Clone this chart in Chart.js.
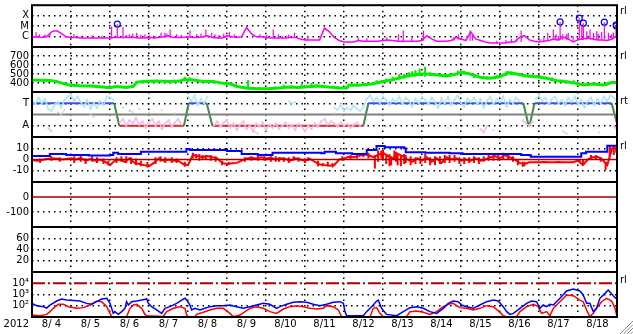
<!DOCTYPE html>
<html>
<head>
<meta charset="utf-8">
<script src="https://cdn.jsdelivr.net/npm/chart.js@4.4.1/dist/chart.umd.min.js"></script>
<style>
  html, body { margin: 0; padding: 0; background: #fff; }
  #wrap { position: relative; width: 633px; height: 334px; overflow: hidden; background: #fff; }
  #wrap canvas { position: absolute; left: 0; top: 0; }
</style>
</head>
<body>
<div id="wrap"></div>
<script>
// hours are counted from 2012-08-04 00:00 UT, 360 h = 15 days
const dayLabels = ['8/ 4', '8/ 5', '8/ 6', '8/ 7', '8/ 8', '8/ 9', '8/10', '8/11', '8/12', '8/13', '8/14', '8/15', '8/16', '8/17', '8/18'];

// X-ray flux (W/m2), one value every 3 h
const xrayFlux = [
  8.3e-7, 9.5e-7, 8.3e-7, 9.5e-7, 2.8e-6, 3.7e-6, 2.0e-6, 9.5e-7, 8.3e-7, 8.3e-7,
  7.2e-7, 7.2e-7, 7.2e-7, 7.2e-7, 7.2e-7, 7.2e-7, 7.2e-7, 8.3e-7, 8.3e-7, 8.3e-7,
  8.3e-7, 8.3e-7, 7.2e-7, 7.2e-7, 8.3e-7, 7.2e-7, 8.3e-7, 9.5e-7, 1.2e-6, 8.3e-7,
  8.3e-7, 8.3e-7, 9.5e-7, 8.3e-7, 8.3e-7, 9.5e-7, 1.2e-6, 8.3e-7, 7.2e-7, 7.2e-7,
  1.2e-6, 9.5e-7, 8.3e-7, 9.5e-7, 7.4e-6, 1.9e-6, 9.5e-7, 9.5e-7, 8.3e-7, 7.2e-7,
  7.2e-7, 7.2e-7, 7.2e-7, 8.3e-7, 8.3e-7, 5.9e-7, 4.8e-7, 4.8e-7, 4.8e-7, 4.8e-7,
  6.5e-6, 2.8e-6, 8.3e-7, 4.2e-7, 3.0e-7, 3.0e-7, 3.0e-7, 4.2e-7, 3.6e-7, 3.6e-7,
  3.6e-7, 3.6e-7, 4.2e-7, 4.8e-7, 4.2e-7, 3.6e-7, 3.6e-7, 3.6e-7, 3.6e-7, 3.6e-7,
  4.2e-7, 1.2e-6, 5.9e-7, 3.6e-7, 3.6e-7, 3.6e-7, 4.2e-7, 8.3e-7, 5.9e-7, 4.2e-7,
  2.8e-6, 5.9e-7, 4.2e-7, 3.0e-7, 2.4e-7, 2.4e-7, 2.4e-7, 2.4e-7, 3.0e-7, 3.0e-7,
  8.3e-7, 1.2e-6, 4.8e-7, 3.6e-7, 3.0e-7, 3.6e-7, 4.2e-7, 5.9e-7, 4.8e-7, 8.3e-7,
  5.9e-7, 3.0e-7, 4.8e-7, 5.9e-7, 7.2e-7, 5.9e-7, 4.8e-7, 4.8e-7, 4.2e-7, 5.9e-7,
  1.2e-6
];
// short X-ray bursts: [hour, low, peak]
const xraySpikes = [
  [2.5, 8e-7, 2.8e-6], [4.5, 8e-7, 1.65e-6], [8, 8e-7, 1.65e-6], [11, 9e-7, 2e-6], [25.8, 8e-7, 1.8e-6],
  [30.5, 7e-7, 1.2e-6], [37, 7e-7, 1.3e-6], [43, 7e-7, 1.2e-6],
  [49, 7e-7, 9e-6], [52.5, 8e-7, 1.5e-5], [56, 8e-7, 8e-6], [58, 8e-7, 1.4e-6], [60, 8e-7, 1.65e-6], [62, 8e-7, 2e-6],
  [64.4, 7e-7, 2.3e-6], [67, 7e-7, 1.5e-6], [69.5, 7e-7, 1.65e-6], [72.5, 8e-7, 1.3e-6], [75.7, 7e-7, 1.2e-6],
  [79.4, 8e-7, 2.3e-6], [81.8, 8e-7, 2.3e-6], [83, 9e-7, 2e-6], [85, 9e-7, 4.6e-6], [89, 8e-7, 1.65e-6], [92, 8e-7, 1.5e-6],
  [97.2, 9e-7, 3.7e-6], [101.3, 8e-7, 1.65e-6], [104, 8e-7, 2e-6], [107, 1e-6, 4.6e-6], [110.6, 8e-7, 2.3e-6],
  [112.6, 8e-7, 1.65e-6], [115, 7e-7, 1.4e-6], [118, 7e-7, 2e-6],
  [121.4, 1e-6, 2.8e-6], [124.5, 9e-7, 1.65e-6], [140.3, 8e-7, 1.65e-6], [144.5, 8e-7, 1.4e-6], [148.5, 7e-7, 4.6e-6],
  [151.6, 7e-7, 1.65e-6], [154, 7e-7, 1.2e-6], [157.8, 7e-7, 1.5e-6], [161.5, 8e-7, 2.3e-6], [169.7, 5e-7, 1.2e-6],
  [200.8, 3.6e-7, 8e-7], [206, 3.6e-7, 7e-7], [218.3, 4e-7, 8e-7], [225.5, 3.6e-7, 1.65e-6],
  [228.5, 3.6e-7, 3.7e-6], [233.7, 3.6e-7, 8e-7], [240.9, 4e-7, 3.7e-6], [259.7, 4e-7, 9e-7],
  [262.4, 5e-7, 1.65e-6], [269.6, 4e-7, 3.7e-6], [271, 4e-7, 1.5e-6], [286, 2.4e-7, 4e-7], [291.7, 2.4e-7, 4.8e-7],
  [295, 3e-7, 6e-7], [298.3, 3e-7, 5.9e-7],
  [301, 3e-7, 3.7e-6], [312.6, 3e-7, 5.9e-7], [315, 3.6e-7, 8e-7], [317.4, 4e-7, 2.3e-6], [320.8, 5e-7, 4.6e-6],
  [322.5, 4e-7, 1.65e-6], [323.9, 4e-7, 1.2e-6], [325, 5e-7, 2.5e-5], [326.6, 5e-7, 1.65e-6],
  [329, 5e-7, 1.65e-6], [330, 5e-7, 2.3e-6], [333, 3e-7, 1e-6], [336.8, 5e-7, 5.7e-5], [338.3, 5e-7, 9e-6],
  [339.3, 5e-7, 1.9e-5], [341.4, 5e-7, 3.2e-6], [343.4, 5e-7, 4.6e-6], [345.5, 5e-7, 2.3e-6],
  [347.5, 5e-7, 3.2e-6], [348.5, 5e-7, 1.9e-6], [350.6, 5e-7, 2.8e-6], [352.2, 5e-7, 2.4e-5], [354.7, 5e-7, 2.3e-6],
  [356.7, 6e-7, 1.65e-6], [357.8, 6e-7, 2.5e-6], [359.4, 8e-7, 1.35e-5]
];
const flareHours = [52.5, 325, 336.8, 339.3, 352.2, 359.5, 359.6];
const flareFlux = [1.55e-5, 2.5e-5, 5.7e-5, 1.9e-5, 2.4e-5, 1.35e-5, 1.05e-5];

// solar wind speed (km/s)
const windHours = [0, 5, 11, 15, 19, 23, 29.5, 35.7, 41.8, 48, 52, 58, 62.4, 64.4, 68.5, 76.7, 85, 91, 94, 99,
  105.4, 111.6, 117.7, 121.8, 127, 133, 139.3, 145.5, 151.6, 157.8, 163.9, 170, 176.2, 182.4, 188.5, 193.7,
  195.1, 200.8, 209, 215.2, 221.4, 227.5, 233.7, 239.8, 242.9, 249, 255.2, 261.4, 264.4, 269.6, 275.7,
  281.9, 288, 293.2, 298.3, 304.4, 310.6, 316.7, 322.9, 329, 335.2, 339.3, 345.5, 351.6, 356.7, 360];
const windSpeed = [433, 430, 428, 418, 396, 378, 370, 367, 359, 348, 361, 350, 363, 410, 416, 422, 416, 422, 440, 433,
  416, 418, 396, 392, 359, 341, 337, 337, 344, 355, 350, 359, 367, 356, 348, 345,
  378, 374, 389, 414, 433, 463, 489, 500, 500, 489, 478, 500, 520, 500, 463,
  452, 470, 515, 500, 478, 470, 452, 426, 414, 396, 378, 389, 378, 405, 405];
// scatter of the speed samples: [hour, low, high]
const windSpikes = [[5, 420, 445], [14, 405, 430], [27, 360, 385], [40, 350, 372], [55, 345, 370], [70, 405, 430],
  [80, 410, 432], [88, 408, 430], [94, 420, 470], [97, 420, 465], [103, 408, 432], [115, 385, 410], [125, 350, 380],
  [133, 335, 433], [140, 330, 350], [150, 335, 360], [155, 340, 380], [160, 342, 372], [166, 345, 395], [172, 350, 400],
  [175, 355, 385], [185, 345, 370], [198, 365, 392], [205, 375, 400], [212, 400, 430], [218, 420, 450], [222, 425, 470],
  [226, 440, 500], [229, 450, 500], [232, 460, 520], [234, 470, 530], [236, 470, 545], [238.5, 480, 560], [241.9, 470, 581],
  [245, 480, 520], [250, 478, 510], [255, 465, 500], [262, 490, 540], [266, 495, 535], [272, 455, 485], [280, 440, 470],
  [286, 460, 490], [292, 480, 530], [295, 490, 525], [300, 480, 510], [306, 465, 495], [313, 455, 480], [320, 430, 460],
  [326, 410, 435], [333.5, 390, 430], [340, 370, 395], [348, 378, 400], [354, 370, 398], [358, 395, 425]];

// T / A state line and sample clouds (0..4 scale, A = 1, T = 3)
const stepHours = [0, 50.6, 53.7, 93.5, 96.4, 107.5, 111, 203.9, 207, 302.4, 305.6, 306.2, 309.2, 356.7, 360];
const stepLevel = [3, 3, 1, 1, 3, 3, 1, 1, 3, 3, 1, 1, 3, 3, 1.2];
const tCloud = [[0, 3.3], [2, 2.9], [4, 3.5], [6, 3.0], [8, 3.4], [10, 2.5], [12, 2.3], [14, 2.9], [16, 3.1], [18, 2.6],
  [20, 3.3], [22, 3.6], [24, 3.7], [26, 3.2], [28, 3.6], [30, 3.1], [32, 2.7], [34, 3.3], [36, 2.5], [38, 3.0],
  [40, 2.6], [42, 3.2], [44, 2.8], [46, 3.6], [48, 3.5], [50, 3.3], [60, 2.4], [62, 2.2],
  [96, 3.6], [98, 3.2], [100, 3.7], [102, 2.8], [104, 3.4], [106, 3.0], [108, 3.6], [158, 3.2], [160, 3.0], [162, 3.1],
  [186, 2.6], [188, 2.4], [190, 2.9], [192, 2.3], [194, 2.6], [196, 2.4], [198, 2.8], [200, 2.5], [202, 2.3], [204, 2.7],
  [206, 3.4], [208, 3.7], [210, 3.2], [212, 3.5], [214, 3.0], [216, 3.6], [218, 3.3], [220, 2.8], [222, 3.4], [224, 3.1],
  [226, 3.6], [228, 2.9], [230, 3.5], [232, 3.2], [234, 2.7], [236, 3.4], [238, 3.0], [240, 3.6], [242, 3.3], [244, 2.9],
  [246, 3.5], [248, 3.1], [250, 2.6], [252, 3.4], [254, 3.0], [256, 3.6], [258, 2.8], [260, 3.3], [262, 3.7], [264, 3.0],
  [266, 2.7], [268, 3.4], [270, 3.1], [272, 3.5], [274, 2.9], [276, 3.3], [278, 2.6], [280, 3.2], [282, 3.6], [284, 2.9],
  [286, 3.4], [288, 3.1], [290, 3.6], [292, 2.7], [294, 3.3], [296, 3.0], [298, 3.5], [300, 3.2],
  [310, 3.4], [312, 3.7], [314, 3.2], [316, 3.5], [318, 2.9], [320, 3.4], [322, 3.6], [324, 3.0], [326, 3.3], [328, 2.8],
  [330, 3.5], [332, 3.1], [334, 3.6], [336, 2.9], [338, 3.3], [340, 2.6], [342, 3.2], [344, 3.5], [346, 2.8], [348, 3.4],
  [350, 3.0], [352, 3.6], [354, 3.2], [356, 3.7], [358, 3.5], [360, 3.1]];
const aCloud = [[10, 0.8], [12, 0.5], [36, 1.2],
  [54, 1.3], [56, 1.6], [58, 1.0], [60, 1.5], [62, 1.2], [64, 1.7], [66, 1.1], [68, 1.4], [70, 0.8], [72, 1.3],
  [74, 1.6], [76, 1.0], [78, 1.4], [80, 0.7], [82, 1.2], [84, 1.5], [86, 0.9], [88, 1.3], [90, 1.6], [92, 1.1],
  [112, 1.0], [114, 1.4], [116, 0.9], [118, 1.3], [120, 1.5], [122, 0.8], [124, 1.2], [126, 0.6], [128, 1.1], [130, 1.4],
  [132, 0.7], [134, 1.0], [136, 0.5], [138, 1.2], [140, 0.9], [142, 1.3], [144, 0.6], [146, 1.1], [148, 0.8], [150, 1.2],
  [152, 0.7], [154, 1.0], [156, 1.3], [158, 0.8], [160, 1.1], [162, 0.6], [164, 1.2], [166, 0.9], [168, 0.5], [170, 1.0],
  [172, 0.7], [174, 1.2], [176, 0.9], [178, 1.4], [180, 1.6], [182, 1.1], [184, 1.4], [186, 1.2], [188, 0.9], [190, 1.3],
  [192, 1.0], [194, 1.2], [196, 0.8], [198, 1.1], [200, 1.3], [202, 1.0],
  [256, 0.8], [276, 0.7], [278, 0.4], [280, 1.0], [284, 0.6], [302, 1.5], [304, 1.2], [306, 1.0], [308, 1.4], [358, 1.0], [360, 0.6]];
const grayCloud = [[16, 2.2], [18, 2.0], [20, 2.4], [36, 2.0], [38, 1.8], [56, 2.6], [60, 2.3], [66, 2.5], [72, 2.2],
  [80, 2.4], [88, 2.1], [137, 0.5], [139, 0.3], [186, 2.1], [190, 1.9], [252, 3.5], [276, 3.4], [327, 0.5], [329, 0.3],
  [335, 0.6], [349, 0.4]];

// IMF Bt and Bz (nT)
const btHours = [0, 11, 21, 35, 48, 50, 53, 66, 67, 93, 95, 97, 120, 129, 139, 147, 148, 160, 178, 180, 186, 187,
  197, 205, 206, 211, 212, 217, 229, 230, 242, 257, 265, 300, 301, 306, 307, 337, 338, 341, 353, 354, 360];
const btValues = [3.1, 4.9, 4, 3.5, 4, 6.1, 5, 5, 6.9, 6.9, 9.3, 8.4, 7.5, 5, 4, 4, 6, 6, 5.5, 7, 6.9, 5.5,
  5, 4.9, 8.4, 8.4, 12, 10.8, 10, 6.5, 6, 5.5, 4.9, 4.9, 4, 3.7, 2.5, 2.5, 5.5, 7, 7, 12.3, 12];
// Bz every 3 h
const bzValues = [
  -0.4, -1, -0.4, 0.5, 1, 1, 0, 0.5, 1, 0, 1.5, -1, 0.5, -1, 0, -2, -5, -1, 0, -2,
  1, -3, -4, -5, -6, -3, 1, -1, 0, -1, -1, -4, -5, 4, 3, 2, 3, 2, 1, -3,
  -4, -3.4, -3, -1, 1, 1.5, 1, 2, 1, 1.5, 0, 1, 0.5, -1, 1, 0, -1, 0.5, -2, -4.5,
  -5, -5.5, -5, 0, 1, 2.5, 2, 3, 4.5, 4, 2, 4, 6, 3, 1, 5, 3, 0, -2, 1,
  -1, 2, -2, 1, -3, 2, 0, 1, -1, 0, -1, 1, -1, 0, 2, 3, 1, 4, 2, 0,
  -3, -4, -2.5, -2.4, -2.4, -2.2, -2.5, -2.4, -2.3, -2.5, -2.4, -2.4, -1, -4.9, 0, 2, 2.5, 0, -5, 10,
  10
];
// Bz scatter: [hour, low, high]
const bzSpikes = [[5, -3, 1], [12, -1, 3], [17, -2, 2], [26, -3, 3], [30, -2, 4], [33, -4, 1], [37, -2, 3], [40, -3, 2],
  [44, -4, 1], [47, -5, -1], [52, -3, 2], [55, -2, 3], [58, -3, 3], [61, -4, 2], [64, -5, 1], [67, -6, -1], [71, -7, -2],
  [76, -4, 2], [79, -2, 3], [82, -3, 2], [86, -3, 2], [89, -3, 1], [94, -6.4, -2], [99, 1, 6], [101, 1, 5], [103, -1, 5],
  [105, 0, 4], [107, 0, 4], [110, -1, 4], [113, -2, 3], [117, -5, -1], [121, -5, -2], [131, -2, 2], [135, -1, 3],
  [139, -1, 4], [143, -1, 3], [147, -2, 3], [150, -2, 3], [152, -2, 2], [155, -2, 2], [158, -3, 2], [161, -1, 3],
  [164, -2, 2], [168, -3, 1], [170, -1, 2], [176, -6, -1], [179, -6, -3], [182, -6, -2], [185, -7, -3], [191, -1, 3],
  [196, 0, 4], [200, 1, 5], [204, 2, 6], [207, 1, 6], [211, -7.9, 4], [213, -2, 8], [215, 1, 8], [216, 0, 9], [218, -4, 5],
  [220, -6, 5], [221, -5, 3], [223, 0, 8], [224, -2, 7], [225, -5, 6], [227, -6, 4], [229, -4, 5], [230, -3, 4],
  [233, -5, 3], [236, -4, 2], [239, -4, 3], [242, -3, 5], [245, -5, 2], [248, -5, 3], [251, -4, 3], [254, -3, 4],
  [257, -3, 4], [260, -2, 4], [263, -4, 2], [266, -4, 2], [269, -3, 2], [272, -3, 3], [275, -4, 2], [278, -2, 3],
  [281, -1, 4], [284, -1, 5], [287, -1, 5], [290, 0, 6], [293, 0, 5], [296, -2, 3], [299, -5, 0], [302, -6.5, -2],
  [303, -6, -2], [337, -3, 0], [339, -5, 0], [344, 0, 4], [347, 0, 4], [350, -2, 2], [353, -9.3, -2], [355.5, 2, 12],
  [358, 4, 12], [359.5, 6, 11]];

// particle flux, bottom panel
const blueFluxHours = [0, 2.9, 7, 9, 11.1, 15.2, 18.2, 21.3, 25.4, 29.5, 33.6, 36.7, 39.8, 42.9, 46, 48, 49, 50, 51, 53.1,
  55.2, 57.2, 58.2, 59.3, 61.3, 64.4, 67.5, 70.6, 71.6, 73.6, 76.7, 79.8, 81.8, 84.9, 89, 92.1, 94.1, 95.2, 97.2, 98.2,
  100.3, 103.4, 106.4, 109.5, 113.6, 117.7, 121.8, 125.9, 130, 134.1, 138.2, 142.3, 146.4, 150.5, 152.6, 156.7, 160.8,
  164.9, 169, 173.1, 177.2, 181.3, 185.4, 189.5, 191.6, 192.6, 193.6, 203.9, 205.9, 209, 212.1, 213.1, 215.1, 218.2,
  224.4, 228.5, 232.6, 236.7, 240.8, 244.9, 249, 253.1, 256.2, 259.2, 262.3, 264.4, 267.4, 271.6, 275.6, 279.8, 283.9,
  286.9, 290, 292.1, 294.1, 296.2, 300.3, 304.4, 307.4, 310.5, 312.6, 314.6, 316.7, 318.7, 320.8, 324.9, 329, 333.1,
  337.2, 339.2, 341.3, 343.3, 345.4, 347.4, 349.5, 352.6, 354.6, 357.7, 359.7];
const blueFlux = [163, 102, 83, 63, 117, 265, 400, 320, 300, 265, 163, 134, 230, 400, 460, 163, 59, 21, 30, 17,
  30, 59, 230, 117, 230, 265, 320, 400, 163, 83, 42, 21, 59, 83, 163, 320, 460, 320, 117, 42,
  59, 42, 59, 83, 102, 102, 117, 83, 59, 83, 117, 163, 134, 59, 83, 134, 200,
  230, 200, 134, 102, 134, 200, 230, 163, 30, 13, 13, 30, 83, 265, 320, 59, 17,
  13, 30, 68, 83, 59, 30, 21, 59, 163, 265, 230, 117, 83, 59, 117, 230, 320,
  265, 83, 30, 17, 21, 59, 163, 265, 230, 59, 117, 83, 134, 117, 460, 2040, 3090,
  2040, 910, 163, 163, 30, 59, 460, 1260, 2510, 790, 400];
const redFluxHours = [0, 5, 9, 11.1, 13.1, 16.2, 19.3, 22.4, 27.5, 31.6, 35.7, 39.8, 42.9, 46, 48, 49, 58.2, 60.3, 62.4,
  64.4, 67.5, 69.5, 70.5, 80.8, 82.9, 87, 91, 94.1, 95.2, 96.2, 100.3, 101.3, 105.4, 109.5, 113.6, 117.7, 121.8, 123.9,
  128, 134.1, 138.2, 142.3, 146.4, 150.5, 154.7, 158.8, 162.8, 166.9, 171, 175.2, 179.3, 181.3, 185.4, 188.5, 190.5,
  208, 210, 212.1, 214.1, 216.2, 230.5, 232.6, 236.7, 240.8, 244.9, 249, 253.1, 256.2, 259.2, 263.3, 267.4, 271.6,
  275.6, 279.8, 283.9, 288, 290, 292.1, 298.2, 300.3, 304.4, 308.5, 311.5, 313.6, 316.7, 318.7, 320.8, 324.9, 329,
  333.1, 337.2, 339.2, 341.3, 343.3, 345.4, 347.4, 350.5, 353.6, 356.7, 358.8, 360];
const redFlux = [15, 13, 17, 30, 59, 134, 134, 83, 59, 68, 117, 265, 230, 83, 21, 10.7, 10.7, 59, 117,
  134, 59, 17, 13, 11, 30, 59, 83, 59, 15, 10.7, 10.7, 17, 26, 42, 59, 59, 21, 10.7,
  15, 59, 83, 59, 30, 21, 51, 83, 102, 83, 59, 51, 59, 102, 83, 42, 10.7,
  10.7, 59, 68, 21, 10.7, 10.7, 30, 34, 26, 17, 30, 83, 134, 163, 68, 59, 42,
  59, 102, 83, 26, 13, 10.7, 10.7, 30, 83, 134, 83, 21, 30, 13, 59, 230, 910,
  790, 320, 230, 42, 10.7, 21, 59, 230, 460, 265, 59, 10.7];

const W = 633, H = 334, LEFT = 32, RIGHT = 617;
const FONT = { family: 'DejaVu Sans', size: 10 };
const DOT = [1.5, 4];
const CLEAR = 'rgba(0,0,0,0)';

function pairs(hours, values) { return hours.map((h, i) => ({ x: h, y: values[i] })); }
function every3(values) { return values.map((v, i) => ({ x: i * 3, y: v })); }
function cloud(list) { return list.map(p => ({ x: p[0], y: p[1] })); }
function segs(list) {
  const out = [];
  list.forEach(s => { out.push({ x: s[0], y: s[1] }, { x: s[0], y: s[2] }, { x: s[0], y: null }); });
  return out;
}
function line(data, color, width, extra) {
  return Object.assign({ data, borderColor: color, borderWidth: width, pointRadius: 0, fill: false, tension: 0 }, extra || {});
}
function flat(value, color, width, extra) {
  return line([{ x: 0, y: value }, { x: 360, y: value }], color, width, extra);
}

const framePlugin = {
  id: 'frame',
  afterDatasetsDraw(chart) {
    const { ctx, chartArea: a } = chart;
    ctx.save();
    ctx.strokeStyle = '#000';
    ctx.lineWidth = 2;
    ctx.strokeRect(a.left, a.top, a.right - a.left, a.bottom - a.top);
    ctx.restore();
  }
};
Chart.register(framePlugin);

const sideMarks = [['rl', 11.5], ['rl', 56], ['rt', 101.5], ['rl', 146.5], ['rl', 280]];
const decorPlugin = {
  id: 'decor',
  afterDraw(chart) {
    const ctx = chart.ctx;
    ctx.save();
    ctx.fillStyle = '#000';
    ctx.font = '10px "DejaVu Sans"';
    ctx.textBaseline = 'middle';
    ctx.textAlign = 'right';
    ctx.fillText('2012', 29, 324);
    ctx.textAlign = 'left';
    sideMarks.forEach(m => ctx.fillText(m[0], 620, m[1]));
    // window resize grip
    ctx.strokeStyle = '#888';
    ctx.lineWidth = 1;
    for (let k = 0; k < 4; k++) {
      ctx.beginPath();
      ctx.moveTo(W, 321 + k * 3.5);
      ctx.lineTo(620 + k * 3.5, H);
      ctx.stroke();
    }
    ctx.restore();
  }
};

function addPanel(top, bottom, datasets, y, showX, plugins) {
  const canvas = document.createElement('canvas');
  canvas.width = W;
  canvas.height = H;
  document.getElementById('wrap').appendChild(canvas);
  return new Chart(canvas, {
    type: 'line',
    data: { datasets },
    plugins: plugins || [],
    options: {
      responsive: false,
      animation: false,
      events: [],
      layout: { padding: { top: top, bottom: showX ? 0 : H - bottom, left: 0, right: W - RIGHT } },
      plugins: { legend: { display: false }, tooltip: { enabled: false } },
      scales: {
        x: {
          type: 'linear', min: 0, max: 360, offset: false,
          afterBuildTicks: s => {
            const t = [{ value: 0 }];
            dayLabels.forEach((d, i) => { t.push({ value: i * 24 + 12 }, { value: i * 24 + 24 }); });
            s.ticks = t;
          },
          afterFit: s => { s.height = showX ? H - bottom : 0; s.paddingLeft = 0; s.paddingRight = 0; },
          ticks: {
            display: showX, autoSkip: false, maxRotation: 0, minRotation: 0, padding: 1,
            color: '#000', font: FONT,
            callback: v => (v % 24 === 12 ? dayLabels[(v - 12) / 24] : '')
          },
          grid: { drawTicks: false, lineWidth: 1.5, color: c => (c.tick && c.tick.value % 24 === 0 ? '#000' : CLEAR) },
          border: { display: false, dash: DOT }
        },
        y: {
          type: y.type || 'linear', min: y.min, max: y.max,
          afterBuildTicks: s => { s.ticks = y.ticks.map(v => ({ value: v })); },
          afterFit: s => { s.width = LEFT; s.paddingTop = 0; s.paddingBottom = 0; },
          ticks: { autoSkip: false, padding: 3, color: '#000', font: FONT, callback: y.label || (v => String(v)) },
          grid: { drawTicks: false, lineWidth: 1.5, color: c => (c.tick && c.tick.value === y.plain ? CLEAR : '#000') },
          border: { display: false, dash: DOT }
        }
      }
    }
  });
}

const xrayNames = { '-6': 'C', '-5': 'M', '-4': 'X' };
const fluxNames = { '2': '10\u00b2', '3': '10\u00b3', '4': '10\u2074' };
const stateNames = { 1: 'A', 3: 'T' };
const STEP_T = '#3f51d9', STEP_A = '#d03030', STEP_MOVE = '#3e8e3e';

// 1: X-ray
addPanel(2, 47, [
  line(every3(xrayFlux), '#ff00ff', 1.5),
  line(segs(xraySpikes), '#ff00ff', 1.2, { spanGaps: false }),
  line(pairs(flareHours, flareFlux), '#0000ff', 1.2, { showLine: false, pointRadius: 3, pointBorderColor: '#0000ff', pointBackgroundColor: CLEAR, pointBorderWidth: 1.2 })
], { type: 'logarithmic', min: 1e-7, max: 1e-3, ticks: [1e-6, 1e-5, 1e-4], label: v => xrayNames[Math.round(Math.log10(v))] || '' }, false);

// 2: solar wind speed
addPanel(47, 92, [
  line(pairs(windHours, windSpeed), '#00f000', 3),
  line(segs(windSpikes), '#00f000', 2, { spanGaps: false })
], { min: 300, max: 800, ticks: [400, 500, 600, 700] }, false);

// 3: T / A state
addPanel(92, 137, [
  line(cloud(grayCloud), '#cccccc', 1, { spanGaps: 2.5, pointRadius: 1.2, pointStyle: 'rect', pointBackgroundColor: '#cccccc', pointBorderWidth: 0 }),
  line(cloud(aCloud), '#f6b8ee', 1.5, { spanGaps: 2.5, pointRadius: 1.2, pointStyle: 'rect', pointBackgroundColor: '#f6b8ee', pointBorderWidth: 0 }),
  line(cloud(tCloud), '#aee6f8', 1.5, { spanGaps: 2.5, pointRadius: 1.2, pointStyle: 'rect', pointBackgroundColor: '#aee6f8', pointBorderWidth: 0 }),
  flat(2, '#808080', 2),
  line(pairs(stepHours, stepLevel), STEP_T, 2, {
    segment: { borderColor: c => (c.p0.parsed.y === c.p1.parsed.y ? (c.p0.parsed.y >= 2 ? STEP_T : STEP_A) : STEP_MOVE) }
  })
], { min: 0, max: 4, ticks: [1, 3], label: v => stateNames[v] || '' }, false);

// 4: Bt / Bz
addPanel(137, 182, [
  flat(0, '#b00000', 1.5),
  line(pairs(btHours, btValues), '#0000ff', 2, { stepped: 'before' }),
  line(every3(bzValues), '#ff0000', 2),
  line(segs(bzSpikes), '#ff0000', 2, { spanGaps: false })
], { min: -20, max: 20, ticks: [-10, 0, 10], plain: 0 }, false);

// 5: index panel (no data)
addPanel(182, 227, [flat(0, '#a00000', 1.5)], { min: -200, max: 100, ticks: [-100, 0], plain: 0 }, false);

// 6: empty panel
addPanel(227, 272, [], { min: 0, max: 80, ticks: [20, 40, 60] }, false);

// 7: particle flux
addPanel(272, 317, [
  flat(1e4, '#b00000', 2, { borderDash: [13, 3, 2, 3] }),
  line(pairs(blueFluxHours, blueFlux), '#0000ff', 1.5),
  line(pairs(redFluxHours, redFlux), '#ff0000', 1.5)
], { type: 'logarithmic', min: 10, max: 1e5, ticks: [100, 1000, 10000], plain: 10000, label: v => fluxNames[Math.round(Math.log10(v))] || '' }, true, [decorPlugin]);
</script>
</body>
</html>
